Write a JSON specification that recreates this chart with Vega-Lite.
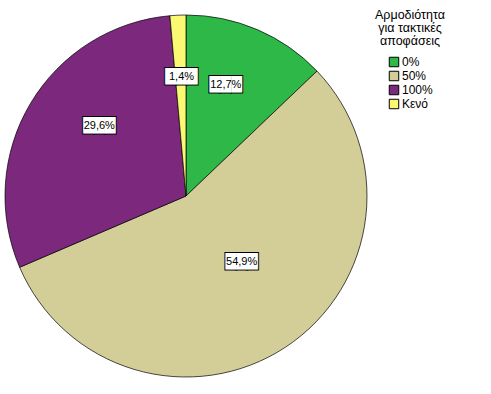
{
  "$schema": "https://vega.github.io/schema/vega-lite/v6.json",
  "width": 372,
  "height": 392,
  "padding": {"left": 0, "top": 0, "right": 119, "bottom": 2},
  "autosize": {"type": "none"},
  "background": "white",
  "config": {"view": {"stroke": null}, "font": "Liberation Sans"},
  "data": {"values": [
    {"cat": "0%", "pct": 12.7, "label": "12,7%", "ord": 1},
    {"cat": "50%", "pct": 54.9, "label": "54,9%", "ord": 2},
    {"cat": "100%", "pct": 29.6, "label": "29,6%", "ord": 3},
    {"cat": "Κενό", "pct": 1.4, "label": "1,4%", "ord": 4}
  ]},
  "encoding": {
    "theta": {"field": "pct", "type": "quantitative", "stack": true},
    "order": {"field": "ord", "type": "quantitative"}
  },
  "layer": [
    {
      "mark": {"type": "arc", "outerRadius": 181, "stroke": "#000", "strokeWidth": 0.7},
      "encoding": {
        "color": {
          "field": "cat", "type": "nominal",
          "scale": {"domain": ["0%", "50%", "100%", "Κενό"], "range": ["#2eb848", "#d3ce97", "#7c287d", "#fbf873"]},
          "legend": {
            "title": ["Αρμοδιότητα", "για τακτικές", "αποφάσεις"],
            "orient": "none", "legendX": 375, "legendY": 9,
            "titleAlign": "center", "titleAnchor": "middle",
            "titleFont": "Liberation Sans",
            "titleFontSize": 12.5, "titleFontWeight": "normal", "titleColor": "#000",
            "titleLineHeight": 13, "titlePadding": 8.5,
            "labelFont": "Liberation Sans",
            "labelFontSize": 12, "labelColor": "#000", "labelOffset": 2,
            "symbolType": "square", "symbolSize": 90, "symbolStrokeColor": "#000", "symbolStrokeWidth": 1,
            "rowPadding": 0
          }
        }
      }
    },
    {
      "mark": {"type": "text", "radius": 101, "yOffset": -18, "font": "DejaVu Sans", "fontSize": 14, "fill": "white", "stroke": "black", "strokeWidth": 2, "text": "███"}
    },
    {
      "mark": {"type": "text", "radius": 101, "yOffset": -18, "font": "DejaVu Sans", "fontSize": 14, "fill": "white", "text": "███"}
    },
    {
      "mark": {"type": "text", "radius": 101, "yOffset": -18, "fontSize": 11, "color": "black"},
      "encoding": {"text": {"field": "label"}}
    }
  ]
}
